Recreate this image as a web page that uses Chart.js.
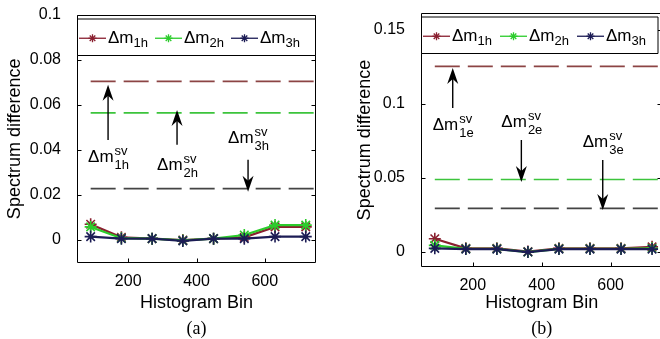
<!DOCTYPE html>
<html>
<head>
<meta charset="utf-8">
<script src="https://cdn.jsdelivr.net/npm/chart.js@4.4.1/dist/chart.umd.min.js"></script>
<style>
  html, body { margin: 0; padding: 0; background: #fff; width: 660px; height: 339px; overflow: hidden; }
  .wrap { position: absolute; top: 0; height: 339px; }
</style>
</head>
<body>
<div class="wrap" style="left:0;width:330px"><canvas id="chartA" width="330" height="339"></canvas></div>
<div class="wrap" style="left:330px;width:340px"><canvas id="chartB" width="340" height="339"></canvas></div>
<script>
// histogram bins (x)
const bins = [90, 180, 270, 360, 450, 540, 630, 720];
const xTicks = [200, 400, 600];

// (a)
const m1hA = [0.0070, 0.0012, 0.0006, 0.0000, 0.0006, 0.0012, 0.0058, 0.0058];
const m2hA = [0.0058, 0.0008, 0.0006, -0.0002, 0.0006, 0.0022, 0.0066, 0.0066];
const m3hA = [0.0015, 0.0006, 0.0006, -0.0004, 0.0006, 0.0006, 0.0015, 0.0015];
const svA = [0.0703, 0.0564, 0.0228];
const yTicksA = [0, 0.02, 0.04, 0.06, 0.08, 0.1];

// (b)
const m1hB = [0.0090, 0.0025, 0.0025, 0.0003, 0.0025, 0.0025, 0.0025, 0.0035];
const m2hB = [0.0045, 0.0022, 0.0022, 0.0000, 0.0022, 0.0022, 0.0022, 0.0025];
const m3hB = [0.0025, 0.0020, 0.0020, 0.0000, 0.0020, 0.0020, 0.0020, 0.0020];
const svB = [0.1254, 0.0490, 0.0295];
const yTicksB = [0, 0.05, 0.1, 0.15];

const legendSubs = ['1h', '2h', '3h'];
const colors = ['#8a2030', '#2ccc2c', '#1c1c55'];
const svColors = ['#8c4444', '#3cc43c', '#444444'];

Chart.defaults.font.family = '"Liberation Sans", Arial, sans-serif';
Chart.defaults.color = '#000';

function line(ctx, x0, y0, x1, y1) {
  ctx.beginPath(); ctx.moveTo(x0, y0); ctx.lineTo(x1, y1); ctx.stroke();
}

function star(ctx, x, y, r) {
  line(ctx, x - r, y, x + r, y);
  line(ctx, x, y - r, x, y + r);
  const d = r * 0.7;
  line(ctx, x - d, y - d, x + d, y + d);
  line(ctx, x - d, y + d, x + d, y - d);
}

function arrow(ctx, x, yTail, yTip) {
  const dir = Math.sign(yTip - yTail);
  ctx.lineWidth = 1.4;
  line(ctx, x, yTail, x, yTip - dir * 8);
  ctx.beginPath();
  ctx.moveTo(x, yTip);
  ctx.lineTo(x - 5.5, yTip - dir * 16);
  ctx.lineTo(x, yTip - dir * 11);
  ctx.lineTo(x + 5.5, yTip - dir * 16);
  ctx.closePath();
  ctx.fill();
}

// draws Δm with a superscript and subscript, centred on cx
function svLabel(ctx, cx, base, sub) {
  ctx.font = '17px "Liberation Sans", Arial';
  const w0 = ctx.measureText('Δm').width;
  ctx.font = '13px "Liberation Sans", Arial';
  const w1 = Math.max(ctx.measureText('sv').width, ctx.measureText(sub).width);
  const left = cx - (w0 + w1) / 2;
  ctx.textAlign = 'left';
  ctx.font = '17px "Liberation Sans", Arial';
  ctx.fillText('Δm', left, base);
  ctx.font = '13px "Liberation Sans", Arial';
  ctx.fillText('sv', left + w0 + 1, base - 7);
  ctx.fillText(sub, left + w0 + 1, base + 7);
}

const decor = {
  id: 'decor',
  afterDraw(chart, args, o) {
    const { ctx, chartArea: a, scales: { x, y } } = chart;
    ctx.save();
    ctx.setLineDash([]);
    ctx.strokeStyle = '#000';
    ctx.fillStyle = '#000';
    ctx.lineWidth = 1;
    // axes box with inward ticks
    const L = Math.round(a.left) + 0.5, R = Math.round(a.right) - 0.5;
    const T = Math.round(a.top) + 0.5, B = Math.round(a.bottom) - 0.5;
    line(ctx, L, T, R, T);
    line(ctx, L, B, R, B);
    line(ctx, L, T, L, B);
    line(ctx, R, T, R, B);
    o.yTicks.forEach(v => {
      const py = Math.round(y.getPixelForValue(v)) + 0.5;
      line(ctx, L, py, L + 4, py);
      line(ctx, R - 4, py, R, py);
    });
    xTicks.forEach(v => {
      const px = Math.round(x.getPixelForValue(v)) + 0.5;
      line(ctx, px, B, px, B - 4);
    });

    // legend box
    const lt = T + 3.5, lb = T + 40;
    const LR = Math.min(R, chart.width - o.legendCut);
    ctx.fillStyle = '#fff';
    ctx.fillRect(L, lt, LR - L, lb - lt);
    line(ctx, L, lt, LR, lt);
    line(ctx, L, lb, LR, lb);
    line(ctx, L, lt, L, lb);
    line(ctx, LR, lt, LR, lb);
    const ly = (lt + lb) / 2 + 1;
    legendSubs.forEach((s, i) => {
      const lx = a.left + 2 + i * o.legendStep;
      ctx.strokeStyle = colors[i];
      ctx.lineWidth = 1.3;
      line(ctx, lx, ly, lx + 27, ly);
      ctx.lineWidth = 1.3;
      star(ctx, lx + 13.5, ly, 4);
      ctx.fillStyle = '#000';
      ctx.textAlign = 'left';
      ctx.font = '17px "Liberation Sans", Arial';
      ctx.fillText('Δm', lx + 29, ly + 5);
      const w = ctx.measureText('Δm').width;
      ctx.font = '13px "Liberation Sans", Arial';
      ctx.fillText(s, lx + 29 + w, ly + 9);
    });

    // arrows and labels
    ctx.strokeStyle = '#000';
    ctx.fillStyle = '#000';
    o.arrows.forEach(ar => {
      const px = x.getPixelForValue(ar.x);
      arrow(ctx, px, y.getPixelForValue(ar.tail), y.getPixelForValue(ar.tip));
      svLabel(ctx, px, y.getPixelForValue(ar.label), ar.sub);
    });

    // caption
    ctx.font = '18px "Liberation Serif", "Times New Roman", serif';
    ctx.textAlign = 'center';
    ctx.fillText(o.caption, (a.left + a.right) / 2, 334);
    ctx.restore();
  }
};

function makeChart(id, s1, s2, s3, sv, yTicks, yMin, yMax, opts) {
  const series = [s1, s2, s3].map((vals, i) => ({
    data: bins.map((b, j) => ({ x: b, y: vals[j] })),
    borderColor: colors[i],
    backgroundColor: colors[i],
    borderWidth: 2.2,
    pointStyle: 'star',
    pointRadius: 6,
    pointBorderWidth: 1.6
  }));
  const svLines = sv.map((v, i) => ({
    data: [{ x: bins[0], y: v }, { x: 750, y: v }],
    borderColor: svColors[i],
    borderWidth: 1.7,
    borderDash: [25, 8],
    pointRadius: 0
  }));
  return new Chart(document.getElementById(id), {
    type: 'line',
    // first dataset is drawn on top, so Δm3h goes first
    data: { datasets: series.slice().reverse().concat(svLines) },
    options: {
      responsive: false,
      animation: false,
      layout: { padding: { left: 0, right: opts.padRight, top: opts.top, bottom: 0 } },
      scales: {
        x: {
          type: 'linear', min: 50, max: 750,
          grid: { display: false }, border: { display: false },
          afterBuildTicks: sc => { sc.ticks = xTicks.map(v => ({ value: v })); },
          afterFit: sc => { sc.height = opts.xHeight; },
          ticks: { font: { size: 16 }, padding: 1, color: '#000' },
          title: { display: true, text: 'Histogram Bin', font: { size: 18 }, padding: { bottom: 25 }, color: '#000' }
        },
        y: {
          min: yMin, max: yMax,
          grid: { display: false }, border: { display: false },
          afterBuildTicks: sc => { sc.ticks = yTicks.map(v => ({ value: v })); },
          afterFit: sc => { sc.width = opts.yWidth; },
          ticks: { font: { size: 16, lineHeight: 0.6 }, padding: 8, color: '#000', callback: v => String(parseFloat(v.toFixed(3))) },
          title: { display: true, text: 'Spectrum difference', font: { size: 18 }, padding: { top: opts.titlePad }, color: '#000' }
        }
      },
      plugins: {
        legend: { display: false },
        tooltip: { enabled: false },
        decor: { yTicks, caption: opts.caption, arrows: opts.arrows, legendStep: opts.legendStep, legendCut: opts.legendCut }
      }
    },
    plugins: [decor]
  });
}

makeChart('chartA', m1hA, m2hA, m3hA, svA, yTicksA, -0.0102, 0.1, {
  padRight: 14, top: 14.5, xHeight: 76, yWidth: 77, titlePad: 4, legendStep: 76, legendCut: 0, caption: '(a)',
  arrows: [
    { x: 141, tail: 0.0444, tip: 0.0688, label: 0.0347, sub: '1h' },
    { x: 343, tail: 0.0422, tip: 0.0577, label: 0.0312, sub: '2h' },
    { x: 551, tail: 0.0356, tip: 0.0214, label: 0.0431, sub: '3h' }
  ]
});

makeChart('chartB', m1hB, m2hB, m3hB, svB, yTicksB, -0.0101, 0.1615, {
  padRight: 6, top: 13, xHeight: 72, yWidth: 91, titlePad: 24, legendStep: 77, legendCut: 12, caption: '(b)',
  arrows: [
    { x: 142, tail: 0.0973, tip: 0.1243, label: 0.0824, sub: '1e' },
    { x: 341, tail: 0.0757, tip: 0.0473, label: 0.0845, sub: '2e' },
    { x: 577, tail: 0.0622, tip: 0.0284, label: 0.0710, sub: '3e' }
  ]
});
</script>
</body>
</html>
